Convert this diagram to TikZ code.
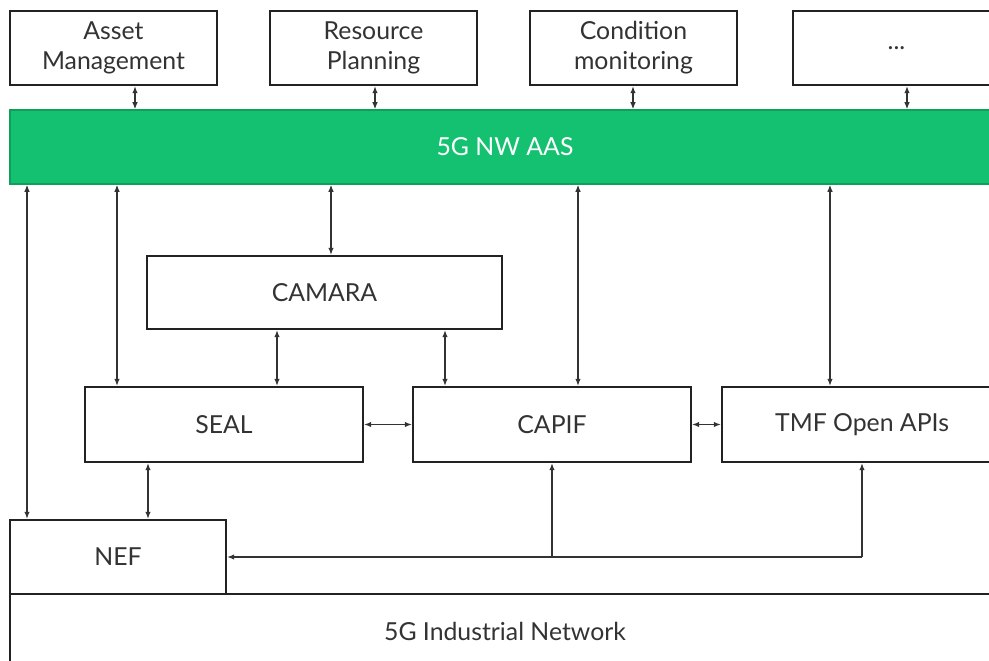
\documentclass[tikz,border=0pt]{standalone}
\usepackage{fontspec}
\setmainfont{Lato}
\usetikzlibrary{arrows.meta}
\definecolor{boxline}{HTML}{222222}
\definecolor{txt}{HTML}{333333}
\definecolor{aasfill}{HTML}{14C170}
\definecolor{aasline}{HTML}{0F9E5B}
\tikzset{
  box/.style={draw=boxline, line width=2.4pt, fill=white, text=txt, align=center,
    font=\fontsize{24.8}{30}\selectfont, inner sep=0pt},
  dar/.style={draw=txt, line width=1.2pt, {Latex[length=7pt,width=5.5pt]}-{Latex[length=7pt,width=5.5pt]}},
  sar/.style={draw=txt, line width=1.2pt, -{Latex[length=7pt,width=5.5pt]}},
}
\begin{document}
\begin{tikzpicture}[x=1pt,y=-1pt]
\useasboundingbox (0,0) rectangle (989,661);
\clip (0,0) rectangle (989,661);
% top application boxes
\node[box, minimum width=207, minimum height=74] (am) at (113.5,48) {Asset\\Management};
\node[box, minimum width=207, minimum height=74] (rp) at (373.5,48) {Resource\\Planning};
\node[box, minimum width=207, minimum height=74] (cm) at (633.5,48) {Condition\\monitoring};
\node[box, minimum width=207, minimum height=74] (dots) at (896.5,48) {...};
% green bar
\node[draw=aasline, line width=1.5pt, fill=aasfill, text=white, font=\fontsize{24.8}{30}\selectfont,
      minimum width=990, minimum height=74, inner sep=0pt] (aas) at (505,147) {5G NW AAS};
% middle boxes
\node[box, minimum width=355, minimum height=73] (camara) at (324.5,292.5) {CAMARA};
\node[box, minimum width=278, minimum height=75] (seal) at (224,424.5) {SEAL};
\node[box, minimum width=278, minimum height=75] (capif) at (552,424.5) {CAPIF};
\node[box, minimum width=280, minimum height=75] (tmf) at (862,424.5) {TMF Open APIs};
% bottom
\node[box, minimum width=990, minimum height=74] (net) at (505,631) {5G Industrial Network};
\node[box, minimum width=216, minimum height=74] (nef) at (118,557) {NEF};
% x positions of vertical connectors
\coordinate (x1) at (135,0);
\coordinate (x2) at (375,0);
\coordinate (x3) at (633,0);
\coordinate (x4) at (907,0);
\coordinate (x5) at (27,0);
\coordinate (x6) at (117,0);
\coordinate (x7) at (331,0);
\coordinate (x8) at (578,0);
\coordinate (x9) at (830,0);
\coordinate (x10) at (277,0);
\coordinate (x11) at (445,0);
\coordinate (x12) at (148,0);
% top connectors
\draw[dar] (am.south -| x1) -- (aas.north -| x1);
\draw[dar] (rp.south -| x2) -- (aas.north -| x2);
\draw[dar] (cm.south -| x3) -- (aas.north -| x3);
\draw[dar] (dots.south -| x4) -- (aas.north -| x4);
% from green bar down
\draw[dar] (aas.south -| x5) -- (nef.north -| x5);
\draw[dar] (aas.south -| x6) -- (seal.north -| x6);
\draw[dar] (aas.south -| x7) -- (camara.north -| x7);
\draw[dar] (aas.south -| x8) -- (capif.north -| x8);
\draw[dar] (aas.south -| x9) -- (tmf.north -| x9);
% camara to seal / capif
\draw[dar] (camara.south -| x10) -- (seal.north -| x10);
\draw[dar] (camara.south -| x11) -- (capif.north -| x11);
% horizontal
\draw[dar] (seal.east) -- (capif.west);
\draw[dar] (capif.east) -- (tmf.west);
% seal to nef
\draw[dar] (seal.south -| x12) -- (nef.north -| x12);
% bottom feedback
\coordinate (j) at (tmf.south |- nef.east);
\draw[sar] (j) -- (nef.east);
\draw[sar] (j) -- (tmf.south);
\draw[sar] (capif.south |- nef.east) -- (capif.south);
\end{tikzpicture}
\end{document}
